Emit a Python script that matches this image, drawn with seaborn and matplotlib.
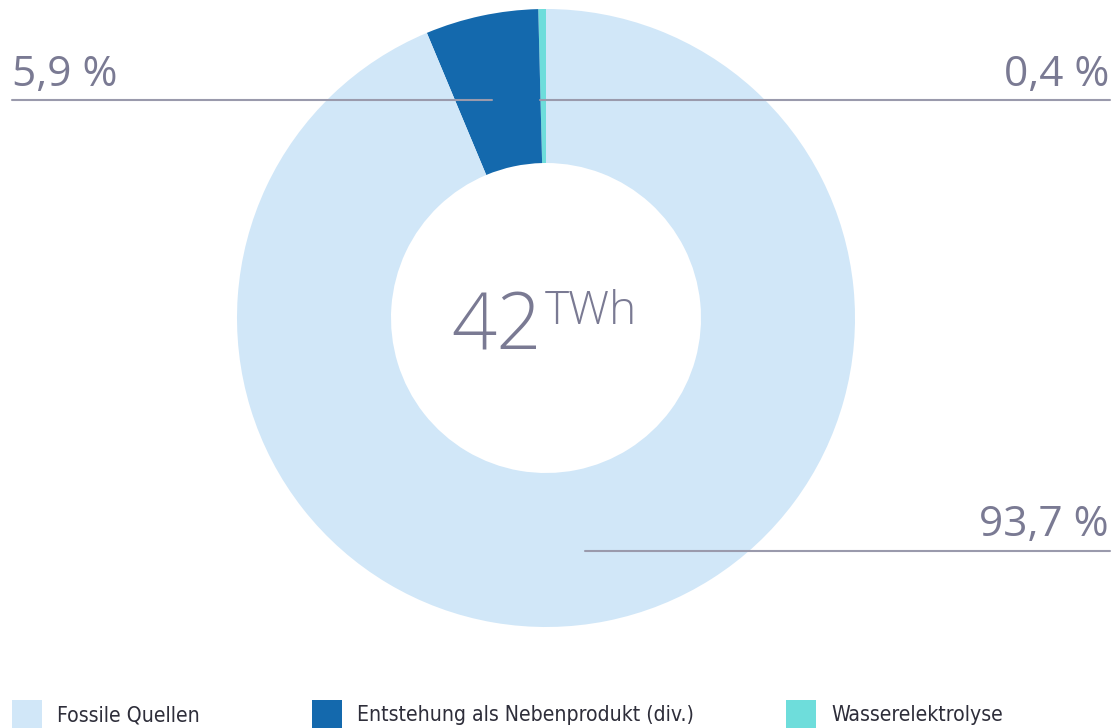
import matplotlib
matplotlib.use("Agg")
import matplotlib.pyplot as plt
from matplotlib.patches import Rectangle
import seaborn as sns

# data
categories = ["Wasserelektrolyse", "Entstehung als Nebenprodukt (div.)", "Fossile Quellen"]
shares = [0.4, 5.9, 93.7]
share_labels = ["0,4 %", "5,9 %", "93,7 %"]
colors = ["#6EDDDB", "#1469AD", "#D1E7F8"]
legend_order = ["Fossile Quellen", "Entstehung als Nebenprodukt (div.)", "Wasserelektrolyse"]
total_value = "42"
total_unit = "TWh"

sns.set_theme(style="white")
plt.rcParams["font.family"] = ["Open Sans", "DejaVu Sans"]

W, H = 1113, 728
fig = plt.figure(figsize=(W / 100, H / 100), dpi=100)
ax = fig.add_axes([0, 0, 1, 1])

cx, cy, r = 546, H - 318, 309
ax.pie(shares, colors=colors, startangle=90, counterclock=True,
       radius=r, center=(cx, cy), frame=True,
       wedgeprops=dict(width=154, linewidth=0))
ax.set_xlim(0, W)
ax.set_ylim(0, H)
ax.set_aspect("equal")
ax.axis("off")

txt = "#7A7A93"
line = "#9A9AAC"
# leader lines and labels
ax.plot([12, 492], [H - 100, H - 100], color=line, lw=1.5)
ax.plot([540, 1110], [H - 100, H - 100], color=line, lw=1.5)
ax.plot([585, 1110], [H - 551, H - 551], color=line, lw=1.5)
lbl = dict(color=txt, fontsize=30.5, va="baseline")
ax.text(12, H - 86, share_labels[1], ha="left", **lbl)
ax.text(1109, H - 86, share_labels[0], ha="right", **lbl)
ax.text(1109, H - 536, share_labels[2], ha="right", **lbl)

# center label
ax.text(542, H - 349, total_value, color=txt, fontsize=57, fontweight="light",
        ha="right", va="baseline")
ax.text(545, H - 324, total_unit, color=txt, fontsize=33, fontweight="light",
        ha="left", va="baseline")

# legend
leg_x = [12, 312, 786]
cmap = dict(zip(categories, colors))
for x, name in zip(leg_x, legend_order):
    ax.add_patch(Rectangle((x, 0), 30, 28, color=cmap[name], lw=0))
    ax.text(x + 45, H - 721, name, color="#2E2E3A", fontsize=15.2,
            family=["DejaVu Sans"], fontstretch="condensed", ha="left", va="baseline")

fig.savefig("out.png", dpi=100)
